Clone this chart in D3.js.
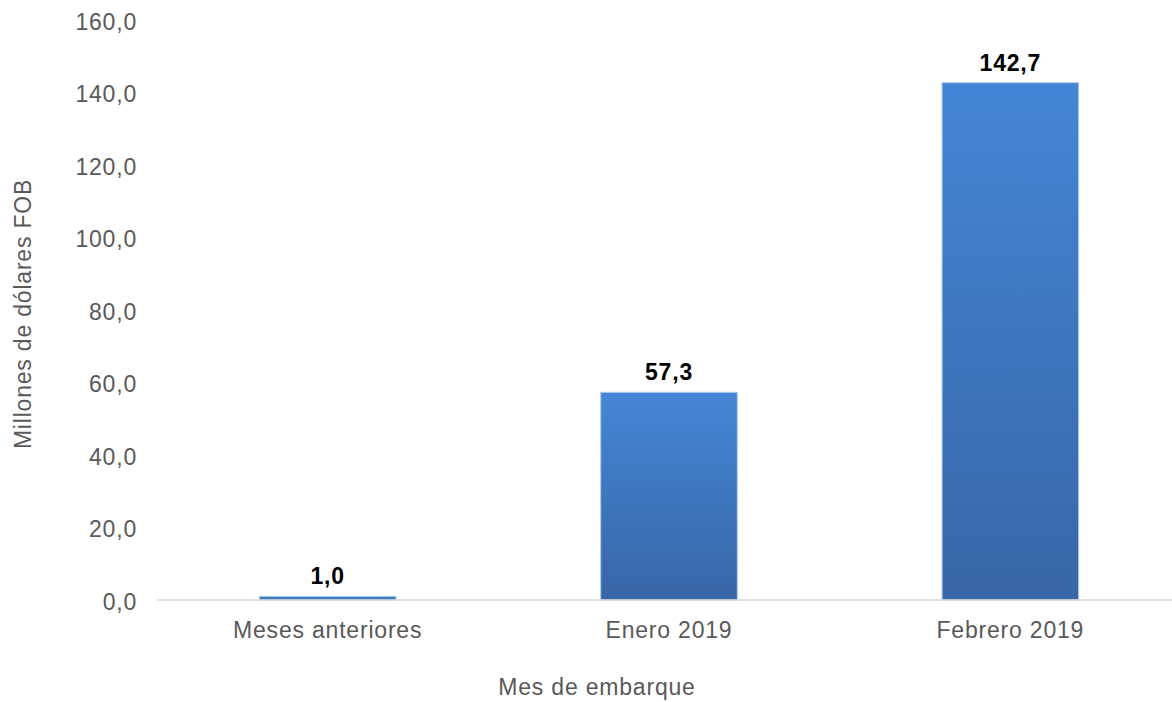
<!DOCTYPE html>
<html>
<head>
<meta charset="utf-8">
<script src="https://cdn.jsdelivr.net/npm/d3@7"></script>
<style>
  body { margin: 0; background: #fff; }
  text { font-family: "Liberation Sans", Arial, sans-serif; }
</style>
</head>
<body>
<svg id="svg" width="1172" height="702"></svg>
<script>
var categories = ["Meses anteriores", "Enero 2019", "Febrero 2019"];
var values = [1.0, 57.3, 142.7];
var yTicks = [0, 20, 40, 60, 80, 100, 120, 140, 160];

var svg = d3.select("#svg");
var fmt = function(v) { return v.toFixed(1).replace(".", ","); };

var x = d3.scaleBand()
  .domain(categories)
  .range([157, 1181])
  .paddingInner(0.6)
  .paddingOuter(0.3);

var y = d3.scaleLinear()
  .domain([0, 160])
  .range([600, 20]);

// gradient for bars
var grad = svg.append("defs").append("linearGradient")
  .attr("id", "barGrad")
  .attr("x1", 0).attr("y1", 0).attr("x2", 0).attr("y2", 1);
grad.append("stop").attr("offset", "0%").attr("stop-color", "#4486d6");
grad.append("stop").attr("offset", "100%").attr("stop-color", "#3866a6");

// y axis labels (no axis line)
var yAxis = svg.append("g")
  .attr("transform", "translate(137,2)")
  .call(d3.axisLeft(y).tickValues(yTicks).tickSize(0).tickPadding(0).tickFormat(fmt));
yAxis.select(".domain").remove();
yAxis.selectAll("text")
  .attr("fill", "#595959")
  .style("font-size", "23px")
  .style("letter-spacing", "0.8px");

// bars
svg.selectAll("rect.bar")
  .data(values)
  .enter()
  .append("rect")
  .attr("class", "bar")
  .attr("x", function(d, i) { return x(categories[i]); })
  .attr("y", function(d) { return y(d); })
  .attr("width", x.bandwidth())
  .attr("height", function(d) { return y(0) - y(d); })
  .attr("fill", "url(#barGrad)")
  .attr("stroke", "#a9c8ec")
  .attr("stroke-width", 1);

// baseline
svg.append("line")
  .attr("x1", 157).attr("x2", 1172)
  .attr("y1", y(0)).attr("y2", y(0))
  .attr("stroke", "#d9d9d9")
  .attr("stroke-width", 1.5);

// x axis labels
var xAxis = svg.append("g")
  .attr("transform", "translate(0," + y(0) + ")")
  .call(d3.axisBottom(x).tickSize(0).tickPadding(22));
xAxis.select(".domain").remove();
xAxis.selectAll("text")
  .attr("fill", "#595959")
  .style("font-size", "23px")
  .style("letter-spacing", "0.8px");

// data labels
svg.selectAll("text.val")
  .data(values)
  .enter()
  .append("text")
  .attr("class", "val")
  .attr("x", function(d, i) { return x(categories[i]) + x.bandwidth() / 2; })
  .attr("y", function(d) { return y(d) - 12; })
  .attr("text-anchor", "middle")
  .style("font-size", "23px")
  .style("font-weight", "bold")
  .style("letter-spacing", "0.8px")
  .attr("fill", "#000")
  .text(fmt);

// axis titles
svg.append("text")
  .attr("x", 597).attr("y", 695)
  .attr("text-anchor", "middle")
  .attr("fill", "#595959")
  .style("font-size", "23px")
  .style("letter-spacing", "0.8px")
  .text("Mes de embarque");

svg.append("text")
  .attr("transform", "translate(31,314) rotate(-90)")
  .attr("text-anchor", "middle")
  .attr("fill", "#595959")
  .style("font-size", "23px")
  .style("letter-spacing", "0.8px")
  .text("Millones de dólares FOB");
</script>
</body>
</html>
